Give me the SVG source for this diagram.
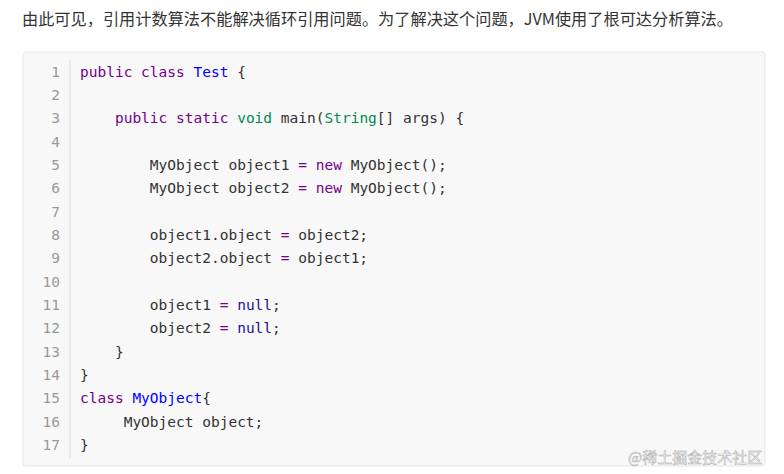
<svg xmlns="http://www.w3.org/2000/svg" width="784" height="474" viewBox="0 0 784 474">
<style>
.t{font-family:"Noto Sans CJK SC","Liberation Sans",sans-serif;font-size:16.2px;fill:#333}
.c{font-family:"DejaVu Sans Mono","Liberation Mono",monospace;font-size:14.5px;fill:#333;white-space:pre}
.n{font-family:"DejaVu Sans Mono",monospace;font-size:14.5px;fill:#999;text-anchor:end}
.k{fill:#770088}.d{fill:#0000ff}.v{fill:#008855}.u{fill:#221199}
.w{font-family:"Noto Sans CJK SC",sans-serif;font-size:15px;fill:#fff;stroke:#aaa;stroke-width:0.5}
</style>
<rect width="784" height="474" fill="#fff"/>
<text class="t" x="22" y="25">由此可见，引用计数算法不能解决循环引用问题。为了解决这个问题，JVM使用了根可达分析算法。</text>
<g id="code">
<rect x="23" y="52" width="742" height="414" rx="3" fill="#f8f8f8" stroke="#e6e6e6"/>
<line x1="70" y1="60" x2="70" y2="458" stroke="#ddd"/>
<g id="nums">
<text class="n" x="60" y="77">1</text><text class="n" x="60" y="100">2</text><text class="n" x="60" y="123">3</text><text class="n" x="60" y="147">4</text><text class="n" x="60" y="170">5</text><text class="n" x="60" y="193">6</text><text class="n" x="60" y="217">7</text><text class="n" x="60" y="240">8</text><text class="n" x="60" y="263">9</text><text class="n" x="60" y="287">10</text><text class="n" x="60" y="310">11</text><text class="n" x="60" y="333">12</text><text class="n" x="60" y="357">13</text><text class="n" x="60" y="380">14</text><text class="n" x="60" y="403">15</text><text class="n" x="60" y="427">16</text><text class="n" x="60" y="450">17</text>
</g>
<text class="c" x="80" y="77"><tspan class="k">public class</tspan> <tspan class="d">Test</tspan> {</text>
<text class="c" x="80" y="123">    <tspan class="k">public static</tspan> <tspan class="v">void</tspan> main(<tspan class="v">String</tspan>[] args) {</text>
<text class="c" x="80" y="170">        MyObject object1 <tspan class="k">=</tspan> <tspan class="k">new</tspan> MyObject();</text>
<text class="c" x="80" y="193">        MyObject object2 <tspan class="k">=</tspan> <tspan class="k">new</tspan> MyObject();</text>
<text class="c" x="80" y="240">        object1.object <tspan class="k">=</tspan> object2;</text>
<text class="c" x="80" y="263">        object2.object <tspan class="k">=</tspan> object1;</text>
<text class="c" x="80" y="310">        object1 <tspan class="k">=</tspan> <tspan class="u">null</tspan>;</text>
<text class="c" x="80" y="333">        object2 <tspan class="k">=</tspan> <tspan class="u">null</tspan>;</text>
<text class="c" x="80" y="357">    }</text>
<text class="c" x="80" y="380">}</text>
<text class="c" x="80" y="403"><tspan class="k">class</tspan> <tspan class="d">MyObject</tspan>{</text>
<text class="c" x="80" y="427">     MyObject object;</text>
<text class="c" x="80" y="450">}</text>
</g>
<text class="w" x="628" y="463">@稀土掘金技术社区</text>
</svg>
